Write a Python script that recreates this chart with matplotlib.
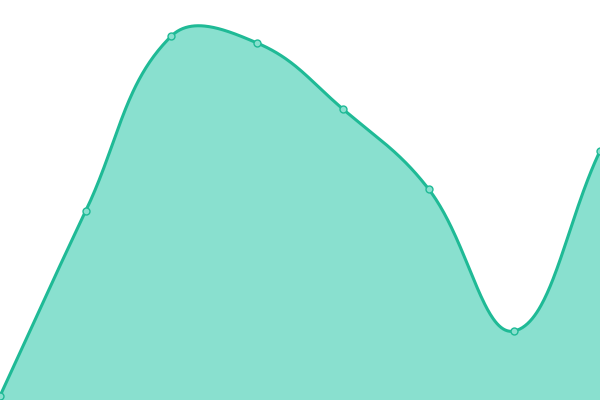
import numpy as np
import matplotlib
matplotlib.use("Agg")
import matplotlib.pyplot as plt

categories = ["A", "B", "C", "D", "E", "F", "G", "H"]
values = [4, 189, 364, 357, 291, 211, 69, 249]

LINE = "#1fba96"
FILL = "#89e0cf"
S = 0.4


def smooth_path(xs, ys, s=S, n=80):
    # distance-weighted cardinal smoothing in pixel space
    xpx = np.asarray(xs, float) * 600.0 / (len(xs) - 1)
    ypx = np.asarray(ys, float)
    pts = np.column_stack([xpx, ypx])
    m = len(pts)
    cin, cout = [], []
    for i in range(m):
        prev = pts[i - 1] if i > 0 else pts[i]
        nxt = pts[i + 1] if i < m - 1 else pts[i]
        v = (nxt - prev) * s
        d0 = np.linalg.norm(pts[i] - prev)
        d1 = np.linalg.norm(nxt - pts[i])
        tot = d0 + d1 if d0 + d1 > 0 else 1
        cin.append(pts[i] - v * d0 / tot)
        cout.append(pts[i] + v * d1 / tot)
    out = []
    t = np.linspace(0, 1, n)[:, None]
    for i in range(m - 1):
        p0, p3, c1, c2 = pts[i], pts[i + 1], cout[i], cin[i + 1]
        seg = ((1 - t) ** 3) * p0 + 3 * ((1 - t) ** 2) * t * c1 + 3 * (1 - t) * t ** 2 * c2 + t ** 3 * p3
        out.append(seg if i == 0 else seg[1:])
    arr = np.vstack(out)
    return arr[:, 0] * (len(xs) - 1) / 600.0, arr[:, 1]


x = np.arange(len(categories))
fig = plt.figure(figsize=(6, 4), dpi=100)
ax = fig.add_axes([0, 0, 1, 1])
sx, sy = smooth_path(x, values)
ax.fill_between(sx, sy, 0, color=FILL, lw=0)
ax.plot(sx, sy, color=LINE, lw=2.2, solid_capstyle="round")
ax.plot(x, values, "o", ms=5, mfc=FILL, mec=LINE, mew=1)
ax.set_xlim(0, len(categories) - 1)
ax.set_ylim(0, 400)
ax.axis("off")
fig.savefig("out.png", dpi=100)
